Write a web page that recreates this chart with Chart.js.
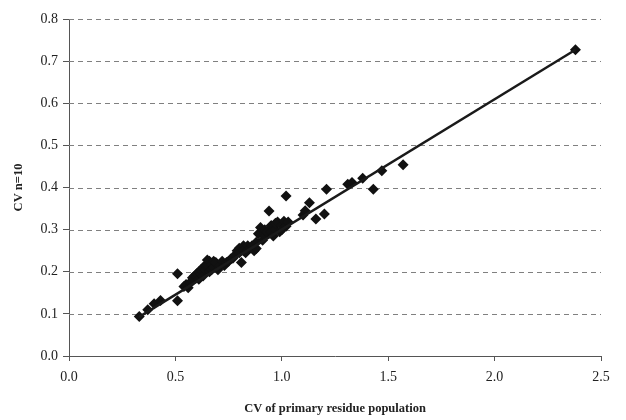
<!DOCTYPE html>
<html>
<head>
<meta charset="utf-8">
<script src="https://cdn.jsdelivr.net/npm/chart.js@4/dist/chart.umd.min.js"></script>
<style>
  html, body { margin: 0; padding: 0; background: #fff; }
  #wrap { width: 626px; height: 420px; }
</style>
</head>
<body>
<div id="wrap"><canvas id="cvChart" width="626" height="420"></canvas></div>
<script>
// CV of primary residue population (x) vs CV for n=10 (y)
const cvPrimary = [
  0.33, 0.37, 0.40, 0.43, 0.51, 0.51, 0.54, 0.55, 0.56, 0.57,
  0.58, 0.58, 0.59, 0.60, 0.60, 0.61, 0.61, 0.62, 0.62, 0.63,
  0.63, 0.64, 0.64, 0.65, 0.65, 0.66, 0.66, 0.67, 0.67, 0.68,
  0.68, 0.69, 0.70, 0.71, 0.72, 0.73, 0.74, 0.75, 0.76, 0.77,
  0.78, 0.79, 0.80, 0.80, 0.81, 0.82, 0.82, 0.83, 0.84, 0.85,
  0.86, 0.87, 0.88, 0.88, 0.89, 0.90, 0.91, 0.92, 0.92, 0.93,
  0.94, 0.95, 0.95, 0.96, 0.97, 0.97, 0.98, 0.99, 1.00, 1.00,
  1.01, 1.02, 1.02, 1.03, 1.10, 1.11, 1.13, 1.16, 1.20, 1.21,
  1.31, 1.33, 1.38, 1.43, 1.47, 1.57, 2.38
]
const cvN10 = [
  0.094, 0.110, 0.124, 0.132, 0.195, 0.131, 0.165, 0.170, 0.162, 0.175,
  0.186, 0.178, 0.190, 0.188, 0.195, 0.182, 0.200, 0.195, 0.205, 0.190,
  0.210, 0.205, 0.215, 0.228, 0.215, 0.200, 0.225, 0.218, 0.205, 0.210,
  0.225, 0.222, 0.205, 0.215, 0.225, 0.215, 0.222, 0.225, 0.230, 0.232,
  0.240, 0.250, 0.256, 0.245, 0.222, 0.262, 0.250, 0.245, 0.262, 0.256,
  0.262, 0.250, 0.270, 0.255, 0.290, 0.305, 0.275, 0.285, 0.300, 0.295,
  0.344, 0.310, 0.295, 0.285, 0.300, 0.315, 0.318, 0.295, 0.310, 0.300,
  0.320, 0.380, 0.308, 0.318, 0.335, 0.345, 0.364, 0.325, 0.337, 0.396,
  0.408, 0.412, 0.422, 0.396, 0.440, 0.454, 0.727
]
// trend line end points
const trendX = [0.33, 2.38]
const trendY = [0.093, 0.727]

const xTicks = [0.0, 0.5, 1.0, 1.5, 2.0, 2.5]
const yTicks = [0.0, 0.1, 0.2, 0.3, 0.4, 0.5, 0.6, 0.7, 0.8]

const points = cvPrimary.map((x, i) => ({ x: x, y: cvN10[i] }))
const trend = trendX.map((x, i) => ({ x: x, y: trendY[i] }))

const serif = "'Liberation Serif', 'DejaVu Serif', serif"

new Chart(document.getElementById("cvChart"), {
  type: "scatter",
  data: {
    datasets: [
      {
        type: "line",
        data: trend,
        borderColor: "#1a1a1a",
        borderWidth: 2.5,
        pointRadius: 0,
        fill: false,
      },
      {
        data: points,
        pointStyle: "rectRot",
        pointRadius: 5.5,
        backgroundColor: "#111",
        borderColor: "#111",
        borderWidth: 0,
      },
    ],
  },
  options: {
    responsive: false,
    animation: false,
    layout: { padding: { left: 0, right: 25, top: 19, bottom: 0 } },
    plugins: { legend: { display: false }, tooltip: { enabled: false } },
    scales: {
      x: {
        type: "linear",
        min: 0,
        max: 2.5,
        afterBuildTicks: (scale) => {
          scale.ticks = xTicks.map((v) => ({ value: v }))
        },
        afterFit: (scale) => {
          scale.height = 64
        },
        ticks: {
          color: "#222",
          padding: 8,
          font: { family: serif, size: 14 },
          callback: (v) => v.toFixed(1),
        },
        grid: {
          drawOnChartArea: false,
          tickLength: 5,
          color: "#555",
        },
        border: { color: "#555", width: 1 },
        title: {
          display: true,
          text: "CV of primary residue population",
          color: "#222",
          padding: { top: 4, bottom: 4 },
          font: { family: serif, size: 12.5, weight: "bold" },
        },
      },
      y: {
        type: "linear",
        min: 0,
        max: 0.8,
        afterBuildTicks: (scale) => {
          scale.ticks = yTicks.map((v) => ({ value: v }))
        },
        afterFit: (scale) => {
          scale.width = 69
        },
        ticks: {
          color: "#222",
          padding: 5,
          font: { family: serif, size: 14 },
          callback: (v) => v.toFixed(1),
        },
        grid: {
          drawOnChartArea: false,
          color: "#555",
          tickLength: 6,
          lineWidth: 1,
        },
        border: { color: "#555", width: 1 },
        title: {
          display: true,
          text: "CV n=10",
          color: "#222",
          padding: { top: 11, bottom: 0 },
          font: { family: serif, size: 12.5, weight: "bold" },
        },
      },
    },
  },
  plugins: [
    {
      // dashed horizontal grid lines across the plot area
      id: "dashedGrid",
      beforeDatasetsDraw(chart) {
        const { ctx, chartArea, scales } = chart
        ctx.save()
        ctx.strokeStyle = "#808080"
        ctx.lineWidth = 1
        ctx.setLineDash([5, 4])
        yTicks.forEach((v) => {
          if (v === 0) return
          const y = Math.round(scales.y.getPixelForValue(v)) + 0.5
          ctx.beginPath()
          ctx.moveTo(chartArea.left, y)
          ctx.lineTo(chartArea.right, y)
          ctx.stroke()
        })
        ctx.restore()
      },
    },
  ],
})
</script>
</body>
</html>
